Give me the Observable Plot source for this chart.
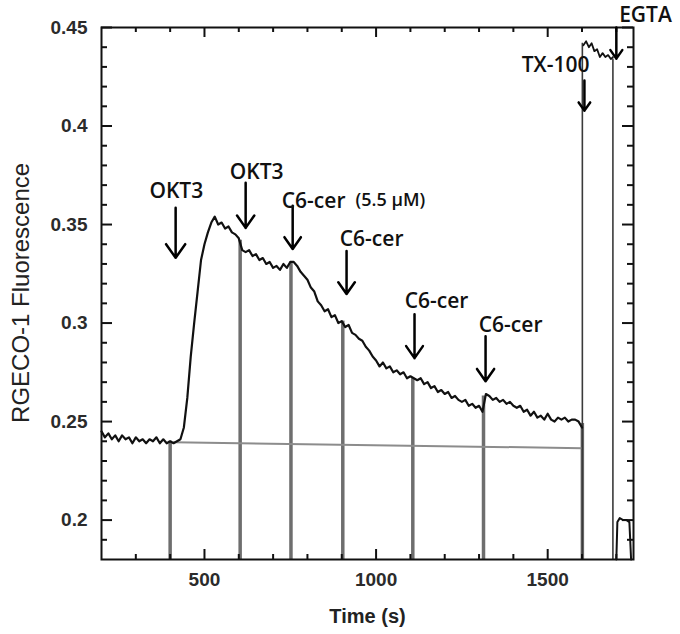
<!DOCTYPE html>
<html><head><meta charset="utf-8">
<script src="https://cdn.jsdelivr.net/npm/d3@7"></script>
<script src="https://cdn.jsdelivr.net/npm/@observablehq/plot@0.6"></script>
<style>body{margin:0;background:#fff} #chart{width:680px;height:634px}</style>
</head><body><div id="chart"></div>
<script>
// ---- data ----
const sampleStart = 200, sampleStep = 10; // recording sampled every 10 s from 200 s
const traceValues = [
  0.245,0.242,0.244,0.241,0.243,0.240,0.243,0.241,0.242,0.239,0.242,0.240,0.241,0.239,0.241,0.240,0.242,0.239,0.241,0.239,0.240,0.239,0.240,
  0.241,0.247,0.262,0.283,0.300,0.316,0.332,0.340,0.346,0.351,0.354,
  0.350,0.351,0.348,0.349,0.346,0.345,0.343,
  0.337,0.336,0.337,0.334,0.335,0.332,0.333,0.330,0.331,0.328,0.329,0.327,0.330,0.328,0.331,
  0.331,0.329,0.326,0.324,0.322,0.318,0.316,0.311,0.309,0.306,0.307,0.303,0.304,0.300,0.301,
  0.298,0.299,0.295,0.294,0.292,0.291,0.288,0.286,0.283,0.281,0.278,0.280,0.277,0.278,0.275,0.276,0.274,0.275,0.272,0.273,
  0.272,0.271,0.272,0.269,0.270,0.267,0.268,0.265,0.266,0.264,0.265,0.262,0.263,0.261,0.260,0.261,0.258,0.259,0.257,0.258,0.255,
  0.264,0.263,0.261,0.262,0.260,0.261,0.259,0.260,0.258,0.257,0.258,0.255,0.256,0.253,0.255,0.252,0.253,0.251,0.254,0.251,0.250,0.252,0.251,0.252,0.250,0.251,0.251,0.250,0.247
];
const txTimes  = [1604,1612,1620,1628,1636,1644,1652,1660,1668,1676,1684,1690];
const txValues = [0.441,0.443,0.440,0.442,0.438,0.439,0.435,0.437,0.435,0.436,0.434,0.435];
const egtaTimes  = [1700,1703,1710,1720,1730,1738,1743];
const egtaValues = [0.180,0.199,0.201,0.200,0.200,0.199,0.180];
const additionTimes = [400,604,752,903,1107,1313,1601];
const additionTops  = [0.240,0.342,0.331,0.301,0.272,0.263,0.249];
const lysisTimes = [1601,1690];
const lysisTops  = [0.442,0.434];
const baselineTimes  = [410,1600];
const baselineValues = [0.2395,0.2365];
const arrowTimes = [416,620,757,914,1112,1319,1607,1700];
const arrowFrom  = [0.3585,0.3712,0.3595,0.3366,0.3045,0.2933,0.4231,0.4500];
const arrowTo    = [0.3331,0.3483,0.3376,0.3147,0.2822,0.2705,0.4078,0.4342];
const labelTexts = ["OKT3","OKT3","C6-cer","C6-cer","C6-cer","C6-cer","TX-100","EGTA"];
const labelTimes = [418,652,818,987,1176,1392,1523,1785];
const labelValues= [0.3669,0.3765,0.3620,0.3425,0.3112,0.2987,0.4307,0.4561];
const noteText = "(5.5 μM)", noteTime = 940, noteValue = 0.3625;
const xMajor = [500,1000,1500];
const xMinor = [300,400,600,700,800,900,1100,1200,1300,1400,1600,1700];
const yMajor = [0.2,0.25,0.3,0.35,0.4,0.45];
const yMajorLabels = ["0.2","0.25","0.3","0.35","0.4","0.45"];
const yMinor = [0.19,0.21,0.22,0.23,0.24,0.26,0.27,0.28,0.29,0.31,0.32,0.33,0.34,0.36,0.37,0.38,0.39,0.41,0.42,0.43,0.44];
const xTitle = "Time (s)", yTitle = "RGECO-1 Fluorescence";
const yTitleTime = -33, yTitleValue = 0.3153;

// ---- layout ----
const W = 680, H = 634, mL = 101, mR = 47, mT = 27, mB = 75;
const FW = W - mL - mR, FH = H - mT - mB;
const X0 = 200, X1 = 1750, Y0 = 0.18, Y1 = 0.45;
const kx = (X1 - X0) / FW, ky = (Y1 - Y0) / FH; // data units per pixel
const LFONT = "'Open Sans', 'Noto Sans', sans-serif";
const AFONT = "'Liberation Sans', Arial, sans-serif";

// ---- derived tables ----
const trace = traceValues.map((v,i)=>({t: sampleStart + i*sampleStep, v}));
const tx = txTimes.map((t,i)=>({t, v: txValues[i]}));
const egta = egtaTimes.map((t,i)=>({t, v: egtaValues[i]}));
const additions = additionTimes.map((t,i)=>({t, top: additionTops[i]}));
const lysis = lysisTimes.map((t,i)=>({t, top: lysisTops[i]}));
const baseline = baselineTimes.map((t,i)=>({t, v: baselineValues[i]}));
const arrows = arrowTimes.map((t,i)=>({t, y1: arrowFrom[i], y2: arrowTo[i]}));
const labels = labelTexts.map((s,i)=>({s, t: labelTimes[i], v: labelValues[i]}));
const xTicks = [...xMinor.map(t=>({t, len: 5})), ...xMajor.map(t=>({t, len: 10}))];
const yTicks = [...yMinor.map(v=>({v, len: 6})), ...yMajor.map(v=>({v, len: 11}))];
const tickStyle = {stroke: "#111", strokeWidth: 2};

const chart = Plot.plot({
  width: W, height: H,
  marginLeft: mL, marginRight: mR, marginTop: mT, marginBottom: mB,
  x: {domain: [X0, X1], axis: null},
  y: {domain: [Y0, Y1], axis: null},
  style: {background: "#fff", fontFamily: AFONT, overflow: "visible"},
  marks: [
    // gray addition lines
    Plot.ruleX(additions, {x: "t", y1: Y0, y2: "top", stroke: "#6e6e6e", strokeWidth: 3.5}),
    Plot.line(baseline, {x: "t", y: "v", stroke: "#8c8c8c", strokeWidth: 2}),
    Plot.ruleX(lysis, {x: "t", y1: Y0, y2: "top", stroke: "#3a3a3a", strokeWidth: 1.6}),
    // trace
    Plot.line(trace, {x: "t", y: "v", stroke: "#111", strokeWidth: 2.2}),
    Plot.line(tx, {x: "t", y: "v", stroke: "#111", strokeWidth: 1.8}),
    Plot.line(egta, {x: "t", y: "v", stroke: "#111", strokeWidth: 2}),
    // frame + inward ticks on all four sides
    Plot.frame({stroke: "#111", strokeWidth: 2}),
    Plot.ruleX(xTicks, {x: "t", y1: Y0, y2: d => Y0 + d.len*ky, ...tickStyle}),
    Plot.ruleX(xTicks, {x: "t", y1: d => Y1 - d.len*ky, y2: Y1, ...tickStyle}),
    Plot.ruleY(yTicks, {y: "v", x1: X0, x2: d => X0 + d.len*kx, ...tickStyle}),
    Plot.ruleY(yTicks, {y: "v", x1: d => X1 - d.len*kx, x2: X1, ...tickStyle}),
    // tick labels
    Plot.text(xMajor, {x: d=>d, frameAnchor: "bottom", lineAnchor: "top", dy: 13, text: d=>String(d),
      fontSize: 19, fontWeight: "bold", fill: "#2b2b2b", fontFamily: AFONT}),
    Plot.text(yMajor, {y: d=>d, frameAnchor: "left", textAnchor: "end", dx: -14, text: (d,i)=>yMajorLabels[i],
      fontSize: 19, fontWeight: "bold", fill: "#2b2b2b", fontFamily: AFONT}),
    // axis titles
    Plot.text([xTitle], {frameAnchor: "bottom", dy: 63, text: d=>d, fontSize: 20, fontWeight: "bold", fill: "#222", fontFamily: AFONT}),
    Plot.text([yTitle], {x: yTitleTime, y: yTitleValue, rotate: -90, text: d=>d, fontSize: 24, fill: "#222", fontFamily: AFONT}),
    // annotations
    Plot.arrow(arrows, {x1: "t", x2: "t", y1: "y1", y2: "y2", stroke: "#000", strokeWidth: 2.5, headLength: 12, headAngle: 70}),
    Plot.text(labels, {x: "t", y: "v", text: "s", fontSize: 21, fontWeight: 600, fill: "#111", fontFamily: LFONT}),
    Plot.text([noteText], {x: noteTime, y: noteValue, text: d=>d, textAnchor: "start", fontSize: 18, fontWeight: 600, fill: "#111", fontFamily: LFONT})
  ]
});
document.getElementById("chart").appendChild(chart);
</script>
</body></html>
